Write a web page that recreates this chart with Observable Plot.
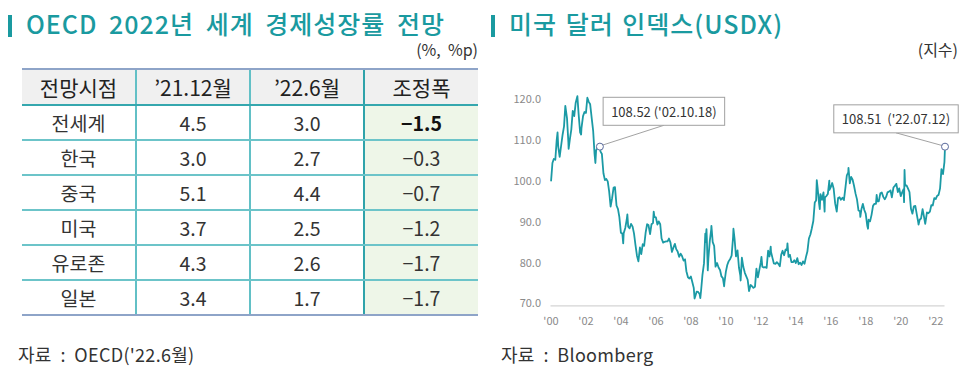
<!DOCTYPE html>
<html><head><meta charset="utf-8">
<script src="https://cdn.jsdelivr.net/npm/d3@7"></script>
<script src="https://cdn.jsdelivr.net/npm/@observablehq/plot@0.6"></script>
<style>
html,body{margin:0;padding:0}
body{width:966px;height:369px;position:relative;background:#fff;font-family:"Noto Sans CJK KR","Noto Sans",sans-serif;overflow:hidden;color:#333}
.title{position:absolute;top:10px;font-size:25px;font-weight:500;color:#1a9aa0;white-space:nowrap;line-height:27px;letter-spacing:1px}
.title .bar{display:inline-block;width:4px;height:22px;background:#1a9aa0;vertical-align:middle;margin-right:14px;position:relative;top:-1px}
.unit{position:absolute;top:40px;font-size:16px;line-height:19px;color:#333;white-space:pre}
.src{position:absolute;top:344px;font-size:18px;line-height:21px;color:#333;white-space:pre;letter-spacing:0.3px}
table{position:absolute;left:22px;top:68px;width:456px;border-collapse:collapse;table-layout:fixed}
th,td{text-align:center;padding:0;color:#222}
th{height:34px;background:#f0f0f0;font-size:21px;font-weight:400;border-top:2px solid #8ea4c8;border-bottom:2px solid #35a7ae}
td{height:33px;font-size:19.5px;border-bottom:2px solid #6cc4c9;color:#333}
tr:last-child td{border-bottom:2px solid #8ea4c8}
th+th,td+td{border-left:2px solid #62c0c6}
th:nth-child(4),td:nth-child(4){border-left:2px solid #2fa3aa}
td:nth-child(4){background:#eef6e8}
td.strong{font-weight:600;color:#111}
#chart{position:absolute;left:480px;top:80px}
</style></head>
<body>
<div class="title" style="left:8px;word-spacing:5px"><span class="bar"></span>OECD 2022년 세계 경제성장률 전망</div>
<div class="unit" style="right:488px">(%,  %p)</div>
<table id="tbl"></table>
<div class="src" style="left:18px">자료  :  OECD('22.6월)</div>

<div class="title" style="left:491px;word-spacing:2px"><span class="bar"></span>미국 달러 인덱스(USDX)</div>
<div class="unit" style="right:8px">(지수)</div>
<div id="chart"></div>
<div class="src" style="left:501px">자료  :  Bloomberg</div>

<script>
// ---- Table data ----
const tableHeader = ["전망시점", "’21.12월", "’22.6월", "조정폭"];
const regions = ["전세계", "한국", "중국", "미국", "유로존", "일본"];
const outlookDec21 = ["4.5", "3.0", "5.1", "3.7", "4.3", "3.4"];
const outlookJun22 = ["3.0", "2.7", "4.4", "2.5", "2.6", "1.7"];
const adjustment = ["−1.5", "−0.3", "−0.7", "−1.2", "−1.7", "−1.7"];

// ---- USDX data ----
const usdxDates = [
"2000-01-03","2000-01-31","2000-02-28","2000-03-31","2000-04-28","2000-05-17","2000-05-31","2000-06-30","2000-07-31","2000-08-31","2000-09-29","2000-10-26","2000-11-30","2000-12-29",
"2001-01-03","2001-01-31","2001-02-28","2001-03-30","2001-04-30","2001-05-31","2001-07-05","2001-07-31","2001-08-31","2001-09-21","2001-09-28","2001-10-31","2001-11-30","2001-12-31",
"2002-01-29","2002-02-28","2002-03-29","2002-04-30","2002-05-31","2002-06-28","2002-07-16","2002-07-31","2002-08-30","2002-09-30","2002-10-18","2002-10-31","2002-11-29","2002-12-31",
"2003-01-31","2003-02-28","2003-03-31","2003-04-30","2003-05-30","2003-06-30","2003-07-31","2003-08-29","2003-09-30","2003-10-31","2003-11-28","2003-12-31",
"2004-01-30","2004-02-17","2004-02-27","2004-03-31","2004-04-30","2004-05-14","2004-05-31","2004-06-30","2004-07-30","2004-08-31","2004-09-30","2004-10-29","2004-11-30","2004-12-30",
"2005-01-31","2005-02-28","2005-03-31","2005-04-29","2005-05-31","2005-06-30","2005-07-29","2005-08-31","2005-09-30","2005-10-31","2005-11-15","2005-11-30","2005-12-30",
"2006-01-31","2006-02-28","2006-03-31","2006-04-28","2006-05-31","2006-06-30","2006-07-31","2006-08-31","2006-09-29","2006-10-31","2006-11-30","2006-12-29",
"2007-01-31","2007-02-28","2007-03-30","2007-04-30","2007-05-31","2007-06-29","2007-07-31","2007-08-31","2007-09-28","2007-10-31","2007-11-30","2007-12-31",
"2008-01-31","2008-02-29","2008-03-17","2008-03-31","2008-04-30","2008-05-30","2008-06-30","2008-07-15","2008-07-31","2008-08-29","2008-09-30","2008-10-27","2008-10-31","2008-11-21","2008-11-28","2008-12-18","2008-12-31",
"2009-01-30","2009-02-27","2009-03-04","2009-03-31","2009-04-30","2009-05-29","2009-06-30","2009-07-31","2009-08-31","2009-09-30","2009-10-30","2009-11-25","2009-11-30","2009-12-31",
"2010-01-29","2010-02-26","2010-03-31","2010-04-30","2010-05-31","2010-06-07","2010-06-30","2010-07-30","2010-08-31","2010-09-30","2010-10-29","2010-11-04","2010-11-30","2010-12-31",
"2011-01-31","2011-02-28","2011-03-31","2011-04-29","2011-05-31","2011-06-30","2011-07-29","2011-08-31","2011-09-30","2011-10-31","2011-11-30","2011-12-30",
"2012-01-13","2012-01-31","2012-02-29","2012-03-30","2012-04-30","2012-05-31","2012-06-29","2012-07-24","2012-07-31","2012-08-31","2012-09-28","2012-10-31","2012-11-30","2012-12-31",
"2013-01-31","2013-02-28","2013-03-29","2013-04-30","2013-05-31","2013-06-28","2013-07-09","2013-07-31","2013-08-30","2013-09-30","2013-10-31","2013-11-29","2013-12-31",
"2014-01-31","2014-02-28","2014-03-31","2014-04-30","2014-05-30","2014-06-30","2014-07-31","2014-08-29","2014-09-30","2014-10-31","2014-11-28","2014-12-31",
"2015-01-30","2015-02-27","2015-03-13","2015-03-31","2015-04-30","2015-05-15","2015-05-29","2015-06-30","2015-07-31","2015-08-24","2015-08-31","2015-09-30","2015-10-30","2015-11-30","2015-12-03","2015-12-31",
"2016-01-29","2016-02-29","2016-03-31","2016-05-03","2016-05-31","2016-06-30","2016-07-29","2016-08-31","2016-09-30","2016-10-31","2016-11-30","2016-12-30",
"2017-01-03","2017-01-31","2017-02-28","2017-03-31","2017-04-28","2017-05-31","2017-06-30","2017-07-31","2017-08-31","2017-09-08","2017-09-29","2017-10-31","2017-11-30","2017-12-29",
"2018-01-31","2018-02-15","2018-02-28","2018-03-30","2018-04-30","2018-05-31","2018-06-29","2018-07-31","2018-08-15","2018-08-31","2018-09-28","2018-10-31","2018-11-30","2018-12-31",
"2019-01-31","2019-02-28","2019-03-29","2019-04-30","2019-05-31","2019-06-28","2019-07-31","2019-08-30","2019-09-30","2019-10-31","2019-11-29","2019-12-31",
"2020-01-31","2020-02-28","2020-03-09","2020-03-19","2020-03-31","2020-04-30","2020-05-29","2020-06-30","2020-07-31","2020-08-31","2020-09-30","2020-10-30","2020-11-30","2020-12-31",
"2021-01-06","2021-01-29","2021-02-26","2021-03-31","2021-04-30","2021-05-25","2021-05-31","2021-06-30","2021-07-30","2021-08-31","2021-09-30","2021-10-29","2021-11-30","2021-12-31",
"2022-01-31","2022-02-28","2022-03-31","2022-04-29","2022-05-31","2022-06-30","2022-07-12"
];
const usdxValues = [
100.2,104.5,105.5,105.3,110.0,112.0,108.5,106.0,108.8,111.5,113.5,118.5,115.5,109.6,
108.0,110.5,112.7,117.3,116.0,119.3,120.9,116.5,112.0,111.5,113.0,116.0,117.0,116.8,
120.5,119.5,118.9,115.5,112.3,106.8,104.5,107.6,108.3,107.9,108.52,107.3,106.7,102.0,
100.3,100.6,100.0,97.5,93.8,95.9,98.5,98.6,94.1,93.2,91.3,87.4,
87.2,84.8,87.3,88.6,90.6,91.9,88.9,88.5,89.6,88.9,87.2,84.5,81.8,80.4,
83.8,82.2,84.6,84.2,87.5,89.5,89.3,87.1,89.5,89.8,92.6,91.3,91.2,
89.4,90.2,89.5,86.0,85.0,85.2,85.3,85.3,86.0,85.0,82.7,83.7,
84.7,83.4,82.8,81.5,82.3,81.7,80.6,80.9,78.0,76.5,76.2,76.7,
75.3,73.9,71.3,71.8,73.0,72.9,72.4,71.4,73.2,77.1,79.9,87.2,85.1,88.3,86.2,78.2,81.2,
85.5,88.1,89.1,85.1,84.2,79.1,80.0,78.9,78.3,76.7,76.3,74.3,75.1,77.9,
79.5,80.4,81.0,81.8,86.4,88.4,86.0,81.6,83.1,78.9,76.9,75.7,81.3,79.0,
77.6,76.8,75.9,73.1,74.6,74.3,73.9,74.2,78.6,76.5,78.3,80.2,
81.5,79.1,78.9,79.0,78.8,83.0,81.6,84.0,82.7,81.2,79.9,79.8,80.2,79.8,
79.2,82.0,83.0,81.9,83.3,83.1,84.8,81.5,82.0,80.2,80.2,80.7,80.0,
81.2,79.7,80.1,79.5,80.4,79.8,81.5,82.8,86.0,87.0,88.4,90.3,
94.8,95.3,100.3,98.4,94.6,93.2,96.9,95.5,97.3,92.6,96.1,96.4,96.9,100.2,97.9,98.6,
99.6,98.2,94.6,92.6,95.9,96.1,95.5,96.0,95.4,98.4,101.5,102.2,
103.3,99.5,101.1,100.4,99.0,97.0,95.6,92.9,92.7,91.3,93.1,94.5,93.0,92.1,
89.1,88.4,90.6,90.2,91.8,94.0,94.5,94.5,96.7,95.1,95.1,97.1,97.3,96.2,
95.6,96.2,97.3,97.5,97.8,96.1,98.5,98.9,99.4,97.4,98.3,96.4,
97.4,98.1,94.9,102.8,99.0,99.0,98.3,97.4,93.3,92.1,93.9,94.0,91.9,89.9,
89.4,90.6,90.9,93.2,91.3,89.6,90.0,92.4,92.2,92.6,94.2,94.1,95.9,95.7,
96.5,96.7,98.3,103.0,101.8,104.7,108.51
];
const yTicks = [70, 80, 90, 100, 110, 120];
const xTickYears = [2000, 2002, 2004, 2006, 2008, 2010, 2012, 2014, 2016, 2018, 2020, 2022];
const noteDates = ["2002-10-18", "2022-07-12"];
const noteValues = [108.52, 108.51];
const noteLabels = ["108.52 ('02.10.18)", "108.51  ('22.07.12)"];

// ---- Build table ----
const tbl = document.getElementById("tbl");
let html = "<tr>" + tableHeader.map(h => `<th>${h}</th>`).join("") + "</tr>";
regions.forEach((r, i) => {
  html += `<tr><td>${r}</td><td>${outlookDec21[i]}</td><td>${outlookJun22[i]}</td><td class="${i === 0 ? "strong" : ""}">${adjustment[i]}</td></tr>`;
});
tbl.innerHTML = html;

// ---- Build chart ----
const usdx = usdxDates.map((d, i) => ({date: new Date(d), value: usdxValues[i]}));
const notes = noteDates.map((d, i) => ({date: new Date(d), value: noteValues[i], label: noteLabels[i]}));
const xTicks = xTickYears.map(y => new Date(Date.UTC(y, 0, 1)));

const chart = Plot.plot({
  width: 486,
  height: 250,
  marginLeft: 70.5,
  marginRight: 21.5,
  marginTop: 19.3,
  marginBottom: 26.7,
  style: {fontFamily: "'Noto Sans CJK KR', 'Noto Sans', sans-serif", fontSize: "11px", background: "transparent"},
  x: {type: "utc", domain: [new Date("2000-01-01"), new Date("2022-07-12")]},
  y: {domain: [70, 120]},
  marks: [
    Plot.ruleY([70], {stroke: "#d4d4d4", strokeWidth: 1.2, dy: 2}),
    Plot.axisX({ticks: xTicks, tickFormat: d => "'" + String(d.getUTCFullYear()).slice(2), tickSize: 0, tickPadding: 13, fill: "#8a8a8a", label: null}),
    Plot.axisY({ticks: yTicks, tickFormat: d3.format(".1f"), tickSize: 0, tickPadding: 10, fill: "#8a8a8a", label: null}),
    Plot.line(usdx, {x: "date", y: "value", stroke: "#1b9aa5", strokeWidth: 1.8, strokeLinejoin: "round"}),
    Plot.dot(notes, {x: "date", y: "value", r: 3.5, fill: "white", stroke: "#5a6a9c", strokeWidth: 1}),
    Plot.text(notes.slice(0, 1), {x: "date", y: "value", text: "label", dx: 64, dy: -34, fontSize: 13, fill: "#333"}),
    Plot.text(notes.slice(1), {x: "date", y: "value", text: "label", dx: -49, dy: -26.5, fontSize: 13, fill: "#333"})
  ]
});
document.getElementById("chart").append(chart);

// annotation boxes and leader lines (placed from the rendered label boxes and the plot's scales)
const xs = chart.scale("x"), ys = chart.scale("y");
const svgRect = chart.getBoundingClientRect();
const allTexts = Array.from(chart.querySelectorAll("text"));
const dotCircle = chart.querySelector("circle");
const dotsG = dotCircle ? dotCircle.closest("g") : null;
const deco = document.createElementNS("http://www.w3.org/2000/svg", "g");
if (dotsG && dotsG.parentNode) dotsG.parentNode.insertBefore(deco, dotsG); else chart.appendChild(deco);
notes.forEach((n, i) => {
  const t = allTexts.find(el => el.textContent === n.label);
  if (!t) return;
  const b = t.getBoundingClientRect();
  const x0 = b.left - svgRect.left, y0 = b.top - svgRect.top;
  const padX = 8, h = 28;
  const cy = y0 + b.height / 2;
  const rx = x0 - padX, ry = cy - h / 2, rw = b.width + 2 * padX;
  const px = xs.apply(n.date), py = ys.apply(n.value);
  d3.select(deco).append("line")
    .attr("x1", px).attr("y1", py).attr("x2", rx + rw / 2).attr("y2", ry + h)
    .attr("stroke", "#8a8a8a").attr("stroke-width", 0.8);
  d3.select(deco).append("rect")
    .attr("x", rx).attr("y", ry).attr("width", rw).attr("height", h)
    .attr("fill", "white").attr("stroke", "#a0a0a0").attr("stroke-width", 1);
});
// keep label text above its box
allTexts.filter(el => noteLabels.includes(el.textContent)).forEach(el => {
  const g = el.closest("g");
  if (g && g.parentNode) g.parentNode.appendChild(g);
});
</script>
</body></html>
